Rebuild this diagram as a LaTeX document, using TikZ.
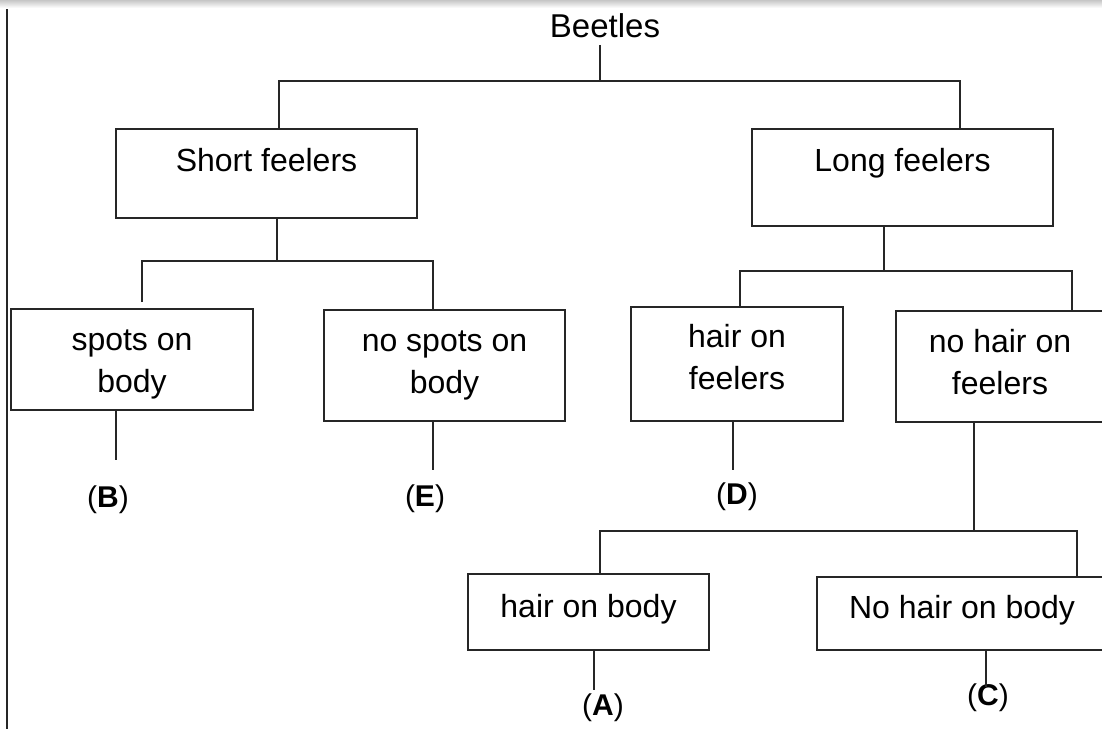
\documentclass[tikz,border=0pt]{standalone}
\usepackage{fontspec}
\setmainfont{Liberation Sans}
\usepackage{tikz}

\begin{document}
\begin{tikzpicture}[x=0.5pt,y=-0.5pt,line width=1pt,
    box/.style={draw=black!85, inner sep=0pt, align=center, anchor=base, font=\fontsize{16}{21}\selectfont},
    key/.style={font=\fontsize{15}{18}\selectfont}]

\useasboundingbox (0,0) rectangle (1102,729);
\clip (0,0) rectangle (1102,729);

% Page edge and margin rule
\shade[top color=gray!45, bottom color=white] (0,0) rectangle (1102,8);
\draw[black!85] (7,9) -- (7,729);

% Define coordinates.
\coordinate (rootL) at (279,81);     %Beetles bar.
\coordinate (rootM) at (600,81);
\coordinate (rootR) at (960,81);
\coordinate (shortL) at (142,261);   %Short feelers bar.
\coordinate (shortM) at (277,261);
\coordinate (shortR) at (433,261);
\coordinate (shortEnd) at (142,302);
\coordinate (longL) at (740,271);    %Long feelers bar.
\coordinate (longM) at (884,271);
\coordinate (longR) at (1072,271);
\coordinate (nohL) at (600,531);     %No hair on feelers bar.
\coordinate (nohM) at (974,531);
\coordinate (nohR) at (1077,531);

\coordinate (dB) at (116,460);
\coordinate (dE) at (433,470);
\coordinate (dD) at (733,470);
\coordinate (dA) at (594,690);
\coordinate (dC) at (986,687);

% Top of the key
\node[anchor=base, font=\fontsize{16.5}{20}\selectfont] (beetles) at (605,37) {Beetles};

% Boxes: placed on the baseline of the last line, text height and depth set the frame
\node[box, minimum width=150.5pt, text height=21pt, text depth=23.5pt] (short) at (266.5,171) {Short feelers};
\node[box, minimum width=150.5pt, text height=21pt, text depth=27.5pt] (long) at (902.5,171) {Long feelers};

\node[box, minimum width=121pt, text height=41.5pt, text depth=9pt] (spots) at (132,392) {spots on\\body};
\node[box, minimum width=120.5pt, text height=41.5pt, text depth=14pt] (nospots) at (444.5,393) {no spots on\\body};
\node[box, minimum width=106pt, text height=41pt, text depth=16pt] (hairf) at (737,389) {hair on\\feelers};
\node[box, minimum width=104pt, text height=41.5pt, text depth=14pt] (nohairf) at (1000,394) {no hair on\\feelers};

\node[box, minimum width=120.5pt, text height=21.5pt, text depth=16.5pt] (hairb) at (588.5,617) {hair on body};
\node[box, minimum width=145pt, text height=20.5pt, text depth=16pt] (nohairb) at (962,618) {No hair on body};

% Answers
\node[key] (lB) at (108,500) {(\textbf{B})};
\node[key] (lE) at (425,499) {(\textbf{E})};
\node[key] (lD) at (737,497) {(\textbf{D})};
\node[key] (lA) at (603,708) {(\textbf{A})};
\node[key] (lC) at (988,698) {(\textbf{C})};

% Branches
\begin{scope}[black!85]
\draw (beetles.south -| rootM) -- (rootM);
\draw (rootL |- short.north) -- (rootL) -- (rootR) -- (rootR |- long.north);

\draw (short.south -| shortM) -- (shortM);
\draw (shortEnd) -- (shortL) -- (shortR) -- (shortR |- nospots.north);

\draw (long.south -| longM) -- (longM);
\draw (longL |- hairf.north) -- (longL) -- (longR) -- (longR |- nohairf.north);

\draw (nohairf.south -| nohM) -- (nohM);
\draw (nohL |- hairb.north) -- (nohL) -- (nohR) -- (nohR |- nohairb.north);

\draw (spots.south -| dB) -- (dB);
\draw (nospots.south -| dE) -- (dE);
\draw (hairf.south -| dD) -- (dD);
\draw (hairb.south -| dA) -- (dA);
\draw (nohairb.south -| dC) -- (dC);
\end{scope}

\end{tikzpicture}
\end{document}
